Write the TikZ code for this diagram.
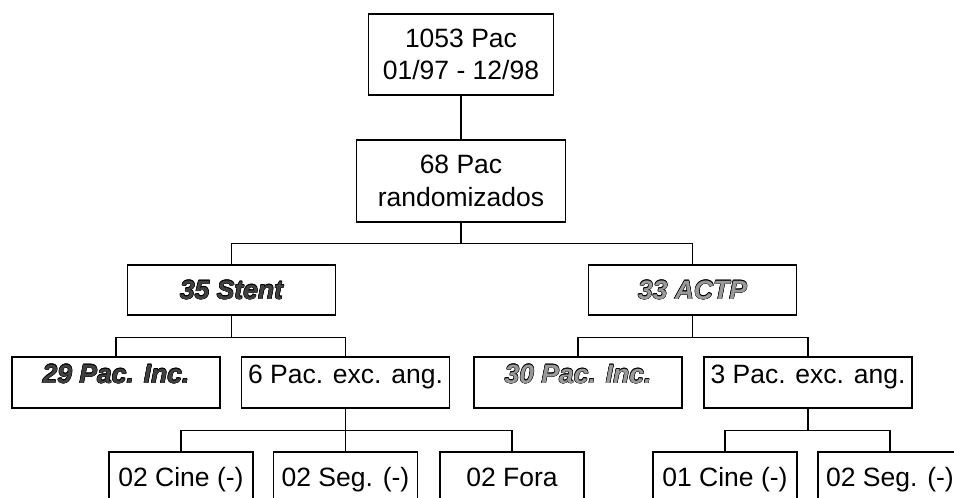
\documentclass[tikz,border=0pt]{standalone}
\usepackage{fontspec}
\setmainfont{Liberation Sans}
\definecolor{inkdark}{HTML}{404040}
\definecolor{inklight}{HTML}{9A9A9A}
% one black copy of the text, shifted by (#1,#2), taking no width
\newcommand\edgecopy[3]{\rlap{\hspace*{#1}\raisebox{#2}{\textcolor{black}{#3}}}}
% text filled with colour #1 inside a thin black rim
\newcommand\ringtext[2]{%
  \edgecopy{0.45pt}{0pt}{#2}\edgecopy{-0.45pt}{0pt}{#2}%
  \edgecopy{0pt}{0.45pt}{#2}\edgecopy{0pt}{-0.45pt}{#2}%
  \edgecopy{0.32pt}{0.32pt}{#2}\edgecopy{-0.32pt}{0.32pt}{#2}%
  \edgecopy{0.32pt}{-0.32pt}{#2}\edgecopy{-0.32pt}{-0.32pt}{#2}%
  \textcolor{#1}{#2}}
\begin{document}
\begin{tikzpicture}[x=1pt,y=-1pt,
  every node/.style={font=\fontsize{26.5}{32.5}\selectfont},
  box/.style={draw=black, line width=1.1pt, inner sep=0pt, fill=white},
  armbox/.style={box, minimum width=208pt, minimum height=50pt,
    text height=19pt, text depth=1pt},
  leafbox/.style={box, minimum width=208pt, minimum height=51pt,
    text height=19pt, text depth=18pt},
  endbox/.style={box, minimum width=144pt, minimum height=58pt,
    text height=19pt, text depth=9pt},
  link/.style={draw=black, line width=1.1pt},
  emph/.style={font=\fontsize{26.5}{32.5}\selectfont\bfseries\itshape}]
\useasboundingbox (0,0) rectangle (954,498);
\clip (0,0) rectangle (954,498);
\fill[white] (0,0) rectangle (954,498);

% recruitment and randomisation
\node[box, minimum width=185pt, minimum height=81pt, align=center]
  (total) at (461,54.5) {1053 Pac\\01/97 - 12/98};
\node[box, minimum width=209pt, minimum height=82pt, align=center]
  (rand) at (461,181) {68 Pac\\randomizados};

% treatment arms
\node[armbox, emph] (stent) at (231.5,290) {\ringtext{inkdark}{35 Stent}};
\node[armbox, emph] (actp)  at (692.5,290) {\ringtext{inklight}{33 ACTP}};

% outcome of each arm
\node[leafbox, emph] (incS) at (116,382.5)   {\ringtext{inkdark}{29 Pac. Inc.}};
\node[leafbox]       (excS) at (345.5,382.5) {6 Pac. exc. ang.};
\node[leafbox, emph] (incA) at (578,382.5)   {\ringtext{inklight}{30 Pac. Inc.}};
\node[leafbox]       (excA) at (808,382.5)   {3 Pac. exc. ang.};

% reasons for exclusion
\node[endbox] (cineS) at (181,481)   {02 Cine (-)};
\node[endbox] (segS)  at (345.5,481) {02 Seg. (-)};
\node[endbox] (foraS) at (512,481)   {02 Fora};
\node[endbox] (cineA) at (725,481)   {01 Cine (-)};
\node[endbox] (segA)  at (890,481)   {02 Seg. (-)};

% tree connectors
\draw[link] (total.south) -- (rand.north);
\draw[link] (rand.south) -- ++(0,21) coordinate (jr);
\draw[link] (stent.north) |- (jr) -| (actp.north);

\draw[link] (stent.south) -- ++(0,22) coordinate (js);
\draw[link] (incS.north) |- (js) -| (excS.north);
\draw[link] (actp.south) -- ++(0,22) coordinate (ja);
\draw[link] (incA.north) |- (ja) -| (excA.north);

\draw[link] (excS.south) -- ++(0,22) coordinate (jes);
\draw[link] (cineS.north) |- (jes) -| (foraS.north);
\draw[link] (segS.north) -- (jes);
\draw[link] (excA.south) -- ++(0,22) coordinate (jea);
\draw[link] (cineA.north) |- (jea) -| (segA.north);
\end{tikzpicture}
\end{document}
